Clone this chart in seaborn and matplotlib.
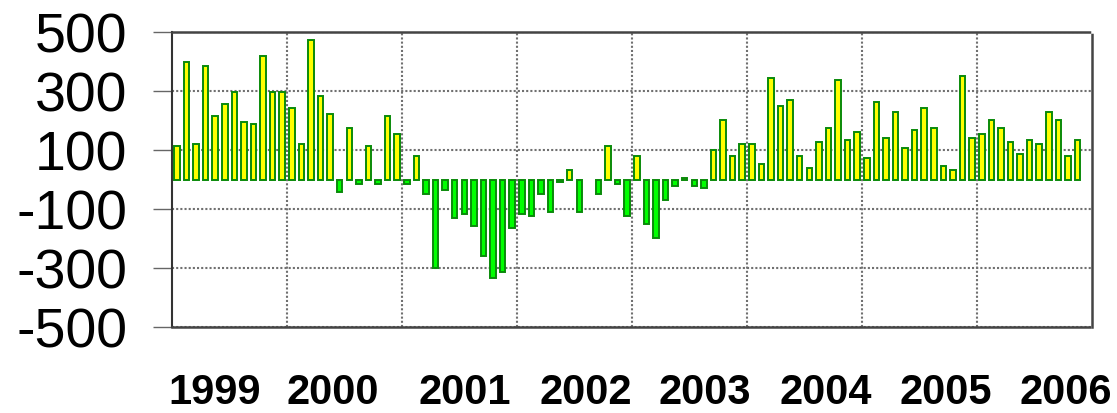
import numpy as np
import pandas as pd
import seaborn as sns
import matplotlib.pyplot as plt
import matplotlib.transforms as mtransforms


# monthly values, one list per year
y1999 = [113, 399, 121, 386, 216, 257, 298, 196, 189, 420, 298, 298]
y2000 = [243, 121, 474, 284, 223, -42, 176, -14, 115, -14, 216, 155]
y2001 = [-14, 81, -49, -300, -36, -130, -117, -158, -259, -334, -313, -164]
y2002 = [-117, -124, -49, -110, -8, 33, -110, 0, -49, 115, -14, -124]
y2003 = [81, -151, -198, -69, -22, 5, -22, -29, 101, 203, 81, 121]
y2004 = [121, 54, 345, 250, 271, 81, 40, 128, 176, 338, 135, 162]
y2005 = [74, 264, 142, 230, 108, 169, 243, 176, 47, 33, 352, 142]
y2006 = [155, 203, 176, 128, 87, 135, 121, 230, 203, 81, 135]

years = ['1999', '2000', '2001', '2002', '2003', '2004', '2005', '2006']
yticks = [-500, -300, -100, 100, 300, 500]

values = y1999 + y2000 + y2001 + y2002 + y2003 + y2004 + y2005 + y2006

df = pd.DataFrame({'month': np.arange(len(values)) + 0.5, 'value': values})
df['sign'] = np.where(df['value'] >= 0, 'pos', 'neg')

# where the year labels sit (in month units)
year_pos = [4.4, 16.8, 30.5, 43.2, 55.6, 68.2, 80.7, 93.3]

sns.set_style('white')
plt.rcParams['font.family'] = ['Liberation Sans', 'DejaVu Sans']
plt.rcParams['text.color'] = 'black'
plt.rcParams['ytick.labelcolor'] = 'black'

fig = plt.figure(figsize=(11.17, 4.13), dpi=100)
ax = fig.add_axes([0.154, 0.2082, 0.8236, 0.7143])

sns.barplot(
    data=df,
    x='month',
    y='value',
    hue='sign',
    palette={'pos': '#FFFF00', 'neg': '#00FF00'},
    saturation=1,
    native_scale=True,
    dodge=False,
    width=0.58,
    edgecolor='#0A8A0A',
    linewidth=1.4,
    legend=False,
    ax=ax
)

# hide the edge of empty bars
for p in ax.patches:
    if p.get_height() == 0:
        p.set_linewidth(0)

ax.set_xlim(0, 96)
ax.set_ylim(-500, 500)
ax.set_yticks(yticks)
ax.set_yticklabels([str(t) for t in yticks])
ax.set_xticks(range(12, 96, 12))
ax.set_xticklabels([])
ax.set_xlabel('')
ax.set_ylabel('')

ax.set_axisbelow(True)
ax.grid(True, linestyle=(0, (1, 1)), color='#707070', linewidth=1.5)

ax.tick_params(axis='y', length=14, width=1, color='#666666',
               direction='out', pad=18, labelsize=40, labelcolor='black',
               left=True)
ax.tick_params(axis='x', length=0)

ax.spines['left'].set_color('#333333')
ax.spines['left'].set_linewidth(1.5)
for s in ['top', 'bottom', 'right']:
    ax.spines[s].set_linestyle((0, (1, 1)))
    ax.spines[s].set_color('#444444')
    ax.spines[s].set_linewidth(1.8)

trans = mtransforms.blended_transform_factory(ax.transData, fig.transFigure)
for x, label in zip(year_pos, years):
    ax.text(x, 9 / 413, label, transform=trans, ha='center', va='baseline',
            fontsize=30, fontweight='bold', color='black', clip_on=False)

plt.savefig('out.png', dpi=100)
